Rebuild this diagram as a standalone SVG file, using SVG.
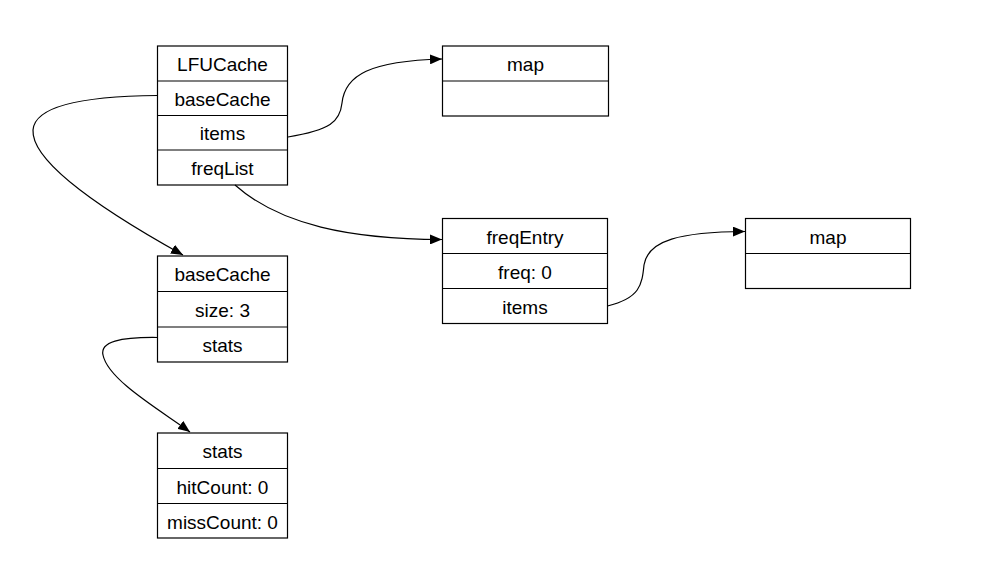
<svg xmlns="http://www.w3.org/2000/svg" width="1006" height="580" viewBox="0 0 1006 580">
<defs>
<style>
.box{fill:#fff;stroke:#000;stroke-width:1.2}
.div{stroke:#000;stroke-width:1.2}
text{font-family:"Liberation Sans",Arial,sans-serif;font-size:19px;fill:#000;text-anchor:middle}
.edge{fill:none;stroke:#000;stroke-width:1.2}
</style>
<marker id="arr" viewBox="0 0 12 10" refX="12" refY="5" markerWidth="12" markerHeight="10" markerUnits="userSpaceOnUse" orient="auto">
<path d="M0,0 L12,5 L0,10 z" fill="#000"/>
</marker>
</defs>
<rect width="1006" height="580" fill="#fff"/>
<g id="lfucache">
<rect class="box" x="157.5" y="46" width="130" height="139"/>
<line class="div" x1="157.5" y1="81" x2="287.5" y2="81"/>
<line class="div" x1="157.5" y1="115.5" x2="287.5" y2="115.5"/>
<line class="div" x1="157.5" y1="150" x2="287.5" y2="150"/>
<text x="222.5" y="71">LFUCache</text>
<text x="222.5" y="105.5">baseCache</text>
<text x="222.5" y="140">items</text>
<text x="222.5" y="174.5">freqList</text>
</g>
<g id="map1">
<rect class="box" x="442.5" y="46" width="166" height="70"/>
<line class="div" x1="442.5" y1="81" x2="608.5" y2="81"/>
<text x="525.5" y="71">map</text>
</g>
<g id="freqentry">
<rect class="box" x="442.5" y="218.5" width="165" height="105"/>
<line class="div" x1="442.5" y1="253.5" x2="607.5" y2="253.5"/>
<line class="div" x1="442.5" y1="288.5" x2="607.5" y2="288.5"/>
<text x="525" y="243.5">freqEntry</text>
<text x="525" y="278.5">freq: 0</text>
<text x="525" y="313.5">items</text>
</g>
<g id="map2">
<rect class="box" x="745.5" y="218.5" width="165" height="70"/>
<line class="div" x1="745.5" y1="253.5" x2="910.5" y2="253.5"/>
<text x="828" y="243.5">map</text>
</g>
<g id="basecache">
<rect class="box" x="157.5" y="256" width="130" height="106"/>
<line class="div" x1="157.5" y1="291.5" x2="287.5" y2="291.5"/>
<line class="div" x1="157.5" y1="327" x2="287.5" y2="327"/>
<text x="222.5" y="281">baseCache</text>
<text x="222.5" y="316.5">size: 3</text>
<text x="222.5" y="352">stats</text>
</g>
<g id="stats">
<rect class="box" x="157.5" y="433" width="130" height="105"/>
<line class="div" x1="157.5" y1="468.5" x2="287.5" y2="468.5"/>
<line class="div" x1="157.5" y1="503.5" x2="287.5" y2="503.5"/>
<text x="222.5" y="458">stats</text>
<text x="222.5" y="493.5">hitCount: 0</text>
<text x="222.5" y="528.5">missCount: 0</text>
</g>
<g id="connectors">
<path class="edge" marker-end="url(#arr)" d="M157.5,95.5 C100,96 35,102 33,130 C31,165 120,220 183,255"/>
<path class="edge" marker-end="url(#arr)" d="M288,137 C330,130 340,122 342,103 C345,75 370,61 442,59"/>
<path class="edge" marker-end="url(#arr)" d="M235,185 C280,225 350,239 442,239.5"/>
<path class="edge" marker-end="url(#arr)" d="M607.5,306 C640,298 642,285 644,265 C648,240 680,232 745,231.5"/>
<path class="edge" marker-end="url(#arr)" d="M157.5,337.5 C120,337 100,342 103,355 C108,380 160,410 190,432"/>
</g>
</svg>
